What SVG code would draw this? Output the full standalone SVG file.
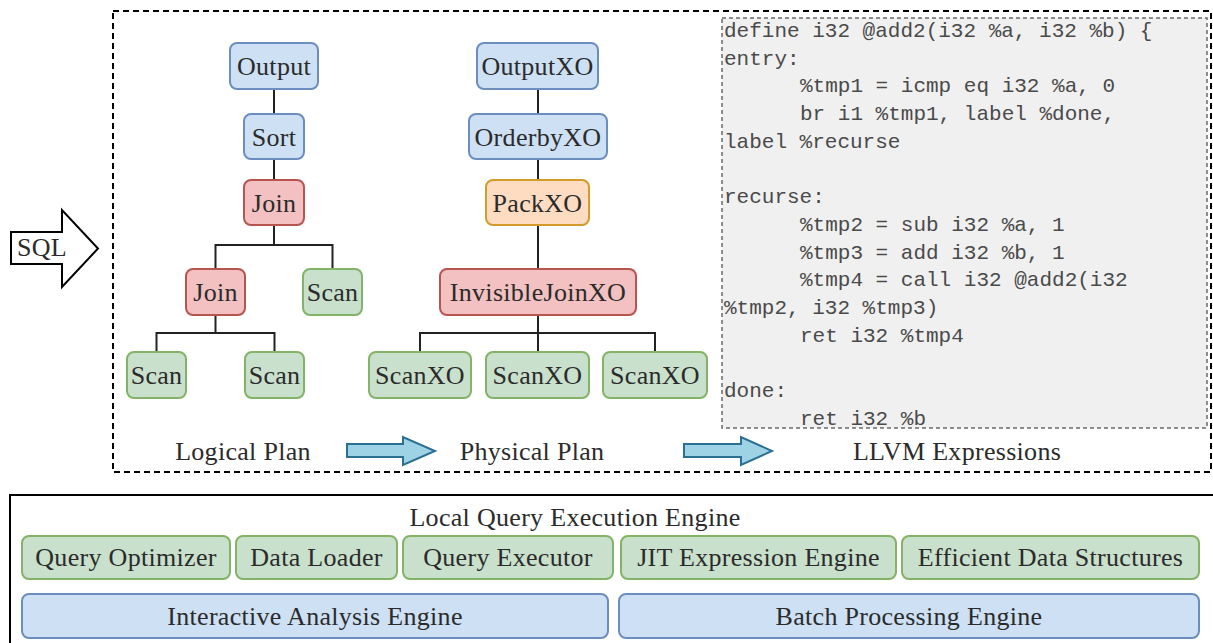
<svg xmlns="http://www.w3.org/2000/svg" width="1213" height="643" viewBox="0 0 1213 643">
  <style>
    .lbl { font-family: "Liberation Serif", "Times New Roman", serif; font-size: 26px; letter-spacing: 0.3px; fill: #2b2b2b; text-anchor: middle; }
    .code { font-family: "Liberation Mono", "Courier New", monospace; font-size: 21px; fill: #4a4a4a; }
    .blue { fill: #cde0f4; stroke: #6c8ebf; stroke-width: 2; }
    .green { fill: #c9e0cc; stroke: #82b366; stroke-width: 2; }
    .red { fill: #f3c1c1; stroke: #b85450; stroke-width: 2; }
    .orange { fill: #fddcc2; stroke: #d39a2c; stroke-width: 2; }
    .edge { fill: none; stroke: #222; stroke-width: 2; }
    .flow { fill: #9ed3e5; stroke: #2b6f93; stroke-width: 2; stroke-linejoin: miter; }
  </style>

  <!-- SQL input arrow -->
  <g id="sql-arrow">
    <polygon points="11,232 62,232 62,210 98,248.5 62,287 62,264 11,264" fill="#fff" stroke="#000" stroke-width="2"/>
    <text class="lbl" x="42" y="256">SQL</text>
  </g>

  <!-- planning stage frame -->
  <rect id="plan-frame" x="113" y="11" width="1098" height="461" fill="none" stroke="#000" stroke-width="2" stroke-dasharray="6 4"/>

  <!-- tree connectors -->
  <g id="connectors">
    <!-- logical plan -->
    <path class="edge" d="M274,89 V114 M274,159 V180 M274,225 V245 M215.5,269 V245 H332.5 V269"/>
    <path class="edge" d="M215.5,315 V333 M156.5,352 V333 H274.5 V352"/>
    <!-- physical plan -->
    <path class="edge" d="M538,89 V114 M538,159 V180 M538,225 V269 M538,315 V352 M420,352 V333 H655 V352"/>
  </g>

  <!-- logical plan nodes -->
  <g id="l-output"><rect class="blue" x="230" y="43" width="88" height="46" rx="7"/><text class="lbl" x="274" y="75">Output</text></g>
  <g id="l-sort"><rect class="blue" x="244" y="114" width="60" height="45" rx="7"/><text class="lbl" x="274" y="146">Sort</text></g>
  <g id="l-join"><rect class="red" x="244" y="180" width="60" height="45" rx="7"/><text class="lbl" x="274" y="212">Join</text></g>
  <g id="l-join2"><rect class="red" x="186" y="269" width="59" height="46" rx="7"/><text class="lbl" x="215.5" y="301">Join</text></g>
  <g id="l-scan3"><rect class="green" x="303" y="269" width="59" height="46" rx="7"/><text class="lbl" x="332.5" y="301">Scan</text></g>
  <g id="l-scan1"><rect class="green" x="127" y="352" width="59" height="46" rx="7"/><text class="lbl" x="156.5" y="384">Scan</text></g>
  <g id="l-scan2"><rect class="green" x="245" y="352" width="59" height="46" rx="7"/><text class="lbl" x="274.5" y="384">Scan</text></g>

  <!-- physical plan nodes -->
  <g id="p-output"><rect class="blue" x="477" y="43" width="121" height="46" rx="7"/><text class="lbl" x="537.5" y="75">OutputXO</text></g>
  <g id="p-orderby"><rect class="blue" x="469" y="114" width="138" height="45" rx="7"/><text class="lbl" x="538" y="146">OrderbyXO</text></g>
  <g id="p-pack"><rect class="orange" x="486" y="180" width="103" height="45" rx="7"/><text class="lbl" x="537.5" y="212">PackXO</text></g>
  <g id="p-join"><rect class="red" x="440" y="269" width="196" height="46" rx="7"/><text class="lbl" x="538" y="301">InvisibleJoinXO</text></g>
  <g id="p-scan1"><rect class="green" x="369" y="352" width="102" height="46" rx="7"/><text class="lbl" x="420" y="384">ScanXO</text></g>
  <g id="p-scan2"><rect class="green" x="486" y="352" width="103" height="46" rx="7"/><text class="lbl" x="537.5" y="384">ScanXO</text></g>
  <g id="p-scan3"><rect class="green" x="603" y="352" width="104" height="46" rx="7"/><text class="lbl" x="655" y="384">ScanXO</text></g>

  <!-- generated LLVM IR -->
  <g id="llvm-code">
    <rect x="722" y="18" width="485" height="410" fill="#f0f0f0" stroke="#6a6a6a" stroke-width="1.5" stroke-dasharray="4 3"/>
    <text class="code" x="724" y="37">define i32 @add2(i32 %a, i32 %b) {</text>
    <text class="code" x="724" y="64.7">entry:</text>
    <text class="code" x="800" y="92.4">%tmp1 = icmp eq i32 %a, 0</text>
    <text class="code" x="800" y="120.1">br i1 %tmp1, label %done,</text>
    <text class="code" x="724" y="147.8">label %recurse</text>
    <text class="code" x="724" y="203.2">recurse:</text>
    <text class="code" x="800" y="230.9">%tmp2 = sub i32 %a, 1</text>
    <text class="code" x="800" y="258.6">%tmp3 = add i32 %b, 1</text>
    <text class="code" x="800" y="286.3">%tmp4 = call i32 @add2(i32</text>
    <text class="code" x="724" y="314">%tmp2, i32 %tmp3)</text>
    <text class="code" x="800" y="341.7">ret i32 %tmp4</text>
    <text class="code" x="724" y="397.1">done:</text>
    <text class="code" x="800" y="424.8">ret i32 %b</text>
  </g>

  <!-- stage captions and flow arrows -->
  <g id="captions">
    <text class="lbl" x="243" y="460">Logical Plan</text>
    <text class="lbl" x="532" y="460">Physical Plan</text>
    <text class="lbl" x="957" y="460">LLVM Expressions</text>
  </g>
  <g id="flow-arrows">
    <polygon class="flow" points="347,444 403,444 403,437 435,451 403,465 403,457 347,457"/>
    <polygon class="flow" points="684,444 741,444 741,437 772,451 741,465 741,457 684,457"/>
  </g>

  <!-- execution engine stack -->
  <g id="engine">
    <rect x="10" y="495" width="1215" height="160" fill="none" stroke="#000" stroke-width="2"/>
    <text class="lbl" x="575" y="526">Local Query Execution Engine</text>
  </g>
  <g id="query-optimizer"><rect class="green" x="22" y="536" width="208" height="43" rx="7"/><text class="lbl" x="126" y="566">Query Optimizer</text></g>
  <g id="data-loader"><rect class="green" x="236" y="536" width="161" height="43" rx="7"/><text class="lbl" x="316.5" y="566">Data Loader</text></g>
  <g id="query-executor"><rect class="green" x="403" y="536" width="210" height="43" rx="7"/><text class="lbl" x="508" y="566">Query Executor</text></g>
  <g id="jit-engine"><rect class="green" x="621" y="536" width="275" height="43" rx="7"/><text class="lbl" x="758.5" y="566">JIT Expression Engine</text></g>
  <g id="data-structures"><rect class="green" x="902" y="536" width="297" height="43" rx="7"/><text class="lbl" x="1050.5" y="566">Efficient Data Structures</text></g>
  <g id="interactive-engine"><rect class="blue" x="22" y="594" width="586" height="44" rx="7"/><text class="lbl" x="315" y="625">Interactive Analysis Engine</text></g>
  <g id="batch-engine"><rect class="blue" x="619" y="594" width="580" height="44" rx="7"/><text class="lbl" x="909" y="625">Batch Processing Engine</text></g>
</svg>
